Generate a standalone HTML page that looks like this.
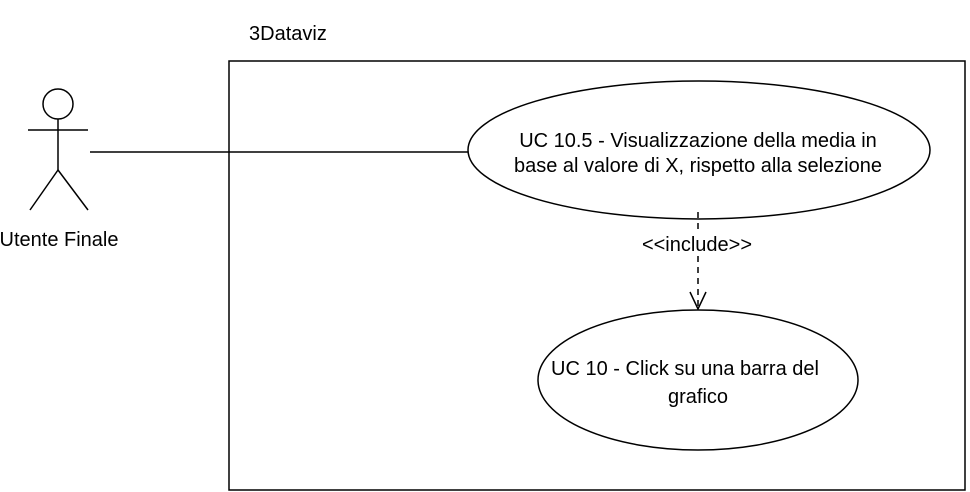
<!DOCTYPE html>
<html><head><meta charset="utf-8"><style>body{margin:0;background:#fff}svg{display:block}</style></head>
<body>
<svg width="970" height="492" xmlns="http://www.w3.org/2000/svg" font-family="Liberation Sans, Arial, sans-serif" font-size="20" fill="none" stroke="#000" stroke-width="1.5">
<rect x="229" y="61" width="736" height="429" fill="#fff"/>
<text x="249" y="40" fill="#000" stroke="none">3Dataviz</text>
<circle cx="58" cy="104" r="15" fill="#fff"/>
<line x1="58" y1="119" x2="58" y2="170"/>
<line x1="28" y1="130" x2="88" y2="130"/>
<line x1="58" y1="170" x2="30" y2="210"/>
<line x1="58" y1="170" x2="88" y2="210"/>
<text x="59" y="246" text-anchor="middle" fill="#000" stroke="none">Utente Finale</text>
<line x1="90" y1="152" x2="468" y2="152"/>
<ellipse cx="699" cy="150" rx="231" ry="69" fill="#fff"/>
<text x="698" y="147" text-anchor="middle" fill="#000" stroke="none">UC 10.5 - Visualizzazione della media in</text>
<text x="698" y="172" text-anchor="middle" fill="#000" stroke="none">base al valore di X, rispetto alla selezione</text>
<line x1="698" y1="212" x2="698" y2="308" stroke-dasharray="6,5"/>
<rect x="638" y="232" width="120" height="24" fill="#fff" stroke="none"/>
<text x="697" y="251" text-anchor="middle" fill="#000" stroke="none">&lt;&lt;include&gt;&gt;</text>
<polyline points="690,292 698,309 706,292"/>
<ellipse cx="698" cy="380" rx="160" ry="70" fill="#fff"/>
<text x="685" y="375" text-anchor="middle" fill="#000" stroke="none">UC 10 - Click su una barra del</text>
<text x="698" y="403" text-anchor="middle" fill="#000" stroke="none">grafico</text>
</svg>
</body></html>
